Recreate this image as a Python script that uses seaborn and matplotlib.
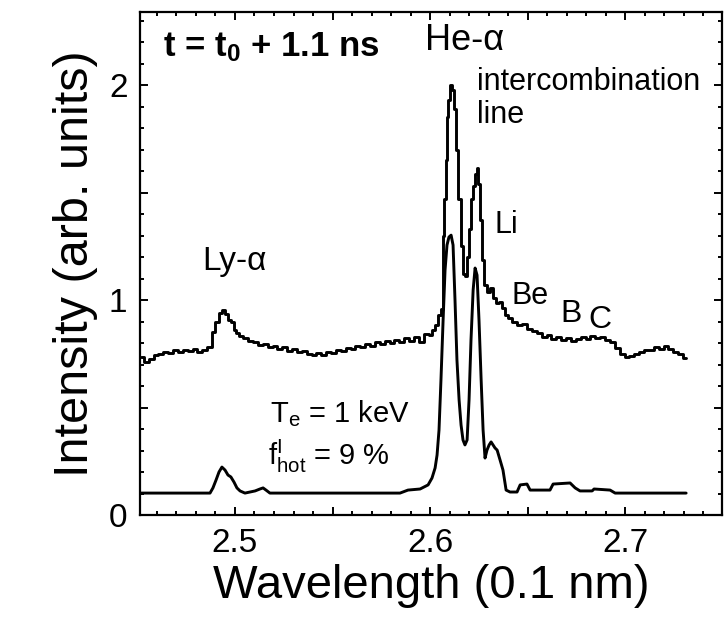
import numpy as np
import pandas as pd
import matplotlib
matplotlib.use("Agg")
import matplotlib.pyplot as plt
from matplotlib.ticker import FixedLocator, MultipleLocator
import seaborn as sns

# upper spectrum (measured, t = t0 + 1.1 ns)
upper_wl = [2.452, 2.4545, 2.457, 2.4595, 2.462, 2.4645, 2.467, 2.4695, 2.472, 2.4745,
            2.477, 2.4795, 2.482, 2.4845, 2.487, 2.489, 2.491, 2.493, 2.494, 2.4955,
            2.497, 2.4985, 2.500, 2.5015, 2.503, 2.5055, 2.508, 2.5105, 2.513, 2.5155,
            2.518, 2.5205, 2.523, 2.5255, 2.528, 2.5305, 2.533, 2.5355, 2.538, 2.5405,
            2.543, 2.5455, 2.548, 2.5505, 2.553, 2.5555, 2.558, 2.5605, 2.563, 2.5655,
            2.568, 2.5705, 2.573, 2.5755, 2.578, 2.5805, 2.583, 2.5855, 2.588, 2.5905,
            2.593, 2.5955, 2.598, 2.6005, 2.602, 2.6031, 2.6051, 2.6062, 2.6067, 2.6077,
            2.6087, 2.6092, 2.6097, 2.6108, 2.6118, 2.6128, 2.6138, 2.6149, 2.6164, 2.6174,
            2.6185, 2.6195, 2.6205, 2.6215, 2.6226, 2.6236, 2.6241, 2.6251, 2.6262, 2.6272,
            2.6282, 2.6297, 2.6313, 2.6328, 2.6344, 2.6359, 2.6374, 2.6390, 2.641, 2.6435,
            2.646, 2.6485, 2.651, 2.6535, 2.656, 2.6585, 2.661, 2.6635, 2.666, 2.6685,
            2.671, 2.6735, 2.676, 2.6785, 2.681, 2.6835, 2.686, 2.6885, 2.691, 2.6935,
            2.696, 2.6985, 2.701, 2.7035, 2.706, 2.7085, 2.711, 2.7135, 2.716, 2.7185,
            2.721, 2.7235, 2.726, 2.7285, 2.731]
upper_int = [0.735, 0.712, 0.726, 0.744, 0.749, 0.758, 0.753, 0.767, 0.758, 0.767,
             0.763, 0.772, 0.758, 0.767, 0.781, 0.851, 0.898, 0.940, 0.953, 0.935,
             0.907, 0.898, 0.860, 0.847, 0.833, 0.823, 0.809, 0.805, 0.791, 0.795,
             0.781, 0.786, 0.772, 0.781, 0.763, 0.772, 0.758, 0.763, 0.749, 0.744,
             0.753, 0.744, 0.758, 0.753, 0.767, 0.763, 0.777, 0.772, 0.786, 0.781,
             0.795, 0.786, 0.805, 0.795, 0.809, 0.800, 0.814, 0.805, 0.823, 0.809,
             0.828, 0.805, 0.842, 0.837, 0.860, 0.884, 0.930, 0.960, 1.300, 1.470,
             1.650, 1.850, 1.930, 2.000, 1.975, 1.890, 1.700, 1.470, 1.250, 1.120,
             1.110, 1.200, 1.330, 1.470, 1.530, 1.585, 1.614, 1.540, 1.372, 1.186,
             1.070, 1.037, 1.056, 1.009, 0.986, 0.991, 0.963, 0.930, 0.916, 0.898,
             0.884, 0.888, 0.865, 0.856, 0.847, 0.828, 0.837, 0.819, 0.828, 0.814,
             0.823, 0.809, 0.819, 0.828, 0.819, 0.833, 0.823, 0.828, 0.814, 0.805,
             0.777, 0.749, 0.735, 0.740, 0.749, 0.758, 0.767, 0.767, 0.781, 0.772,
             0.786, 0.772, 0.758, 0.749, 0.730]

# lower spectrum (model, Te = 1 keV)
lower_wl = [2.452, 2.4872, 2.4887, 2.4903, 2.4918, 2.4933, 2.4949, 2.4964, 2.4979, 2.4995,
            2.5010, 2.5026, 2.5051, 2.5077, 2.5103, 2.5128, 2.5144, 2.5159, 2.5179, 2.5846,
            2.5887, 2.5949, 2.5990, 2.6010, 2.6026, 2.6036, 2.6046, 2.6056, 2.6067, 2.6077,
            2.6087, 2.6097, 2.6108, 2.6118, 2.6128, 2.6138, 2.6149, 2.6159, 2.6169, 2.6179,
            2.6190, 2.6200, 2.6210, 2.6221, 2.6231, 2.6241, 2.6251, 2.6262, 2.6272, 2.6282,
            2.6292, 2.6303, 2.6313, 2.6323, 2.6333, 2.6344, 2.6359, 2.6374, 2.6390, 2.6410,
            2.6446, 2.6462, 2.6497, 2.6513, 2.6615, 2.6631, 2.6718, 2.6744, 2.6769, 2.6831,
            2.6841, 2.6923, 2.6949, 2.7313]
lower_int = [0.102, 0.102, 0.126, 0.163, 0.200, 0.223, 0.209, 0.186, 0.177, 0.153,
             0.126, 0.112, 0.102, 0.107, 0.112, 0.121, 0.126, 0.116, 0.102, 0.102,
             0.116, 0.121, 0.140, 0.172, 0.219, 0.279, 0.395, 0.628, 0.907, 1.140,
             1.256, 1.293, 1.302, 1.256, 1.000, 0.721, 0.535, 0.419, 0.349, 0.326,
             0.349, 0.535, 0.814, 1.047, 1.149, 1.116, 0.907, 0.628, 0.395, 0.265,
             0.302, 0.326, 0.340, 0.326, 0.312, 0.302, 0.256, 0.209, 0.116, 0.107,
             0.107, 0.140, 0.144, 0.116, 0.116, 0.144, 0.149, 0.126, 0.112, 0.112,
             0.121, 0.116, 0.102, 0.102]

x_ticks = [2.5, 2.55, 2.6, 2.65, 2.7]
x_tick_labels = ["2.5", "", "2.6", "", "2.7"]
y_ticks = [0, 0.5, 1, 1.5, 2]
y_tick_labels = ["0", "", "1", "", "2"]

sns.set_style("ticks")
plt.rcParams["font.family"] = ["Liberation Sans", "DejaVu Sans"]
plt.rcParams["mathtext.fontset"] = "custom"
plt.rcParams["mathtext.rm"] = "Liberation Sans"
plt.rcParams["mathtext.it"] = "Liberation Sans:italic"
plt.rcParams["mathtext.bf"] = "Liberation Sans:bold"
for key in ["text.color", "axes.labelcolor", "xtick.color", "ytick.color", "axes.edgecolor"]:
    plt.rcParams[key] = "black"

df_up = pd.DataFrame({"wl": upper_wl, "I": upper_int})
df_lo = pd.DataFrame({"wl": lower_wl, "I": lower_int})

fig = plt.figure(figsize=(7.25, 6.17), dpi=100)
ax = fig.add_axes([0.1931, 0.1653, 0.8028, 0.8152])

sns.lineplot(data=df_up, x="wl", y="I", color="black", linewidth=2.1,
             estimator=None, sort=False, drawstyle="steps-mid", ax=ax)
sns.lineplot(data=df_lo, x="wl", y="I", color="black", linewidth=2.1,
             estimator=None, sort=False, ax=ax)

ax.set_xlim(2.4513, 2.7497)
ax.set_ylim(0, 2.34)

ax.xaxis.set_major_locator(FixedLocator(x_ticks))
ax.set_xticklabels(x_tick_labels)
ax.yaxis.set_major_locator(FixedLocator(y_ticks))
ax.set_yticklabels(y_tick_labels)
ax.xaxis.set_minor_locator(MultipleLocator(0.01))
ax.yaxis.set_minor_locator(MultipleLocator(0.1))
ax.tick_params(which="both", direction="in", top=True, right=True, width=1.4,
               labelsize=24, pad=9)
ax.tick_params(which="major", length=6)
ax.tick_params(which="minor", length=3)
for s in ax.spines.values():
    s.set_linewidth(1.6)

ax.set_xlabel("Wavelength (0.1 nm)", fontsize=34, labelpad=4)
ax.set_ylabel("Intensity (arb. units)", fontsize=35, labelpad=8)

ax.text(0.04, 0.93, r"t = t$_\mathbf{0}$ + 1.1 ns", transform=ax.transAxes,
        fontsize=25, fontweight="bold", va="center", ha="left")
ax.text(2.5974, 2.163, "He-α", fontsize=26, ha="left", va="baseline")
ax.text(2.6241, 1.977, "intercombination", fontsize=22, ha="left", va="baseline")
ax.text(2.6241, 1.823, "line", fontsize=22, ha="left", va="baseline")
ax.text(2.6333, 1.312, "Li", fontsize=22, ha="left", va="baseline")
ax.text(2.4831, 1.140, "Ly-α", fontsize=24, ha="left", va="baseline")
ax.text(2.642, 0.98, "Be", fontsize=22, ha="left", va="baseline")
ax.text(2.667, 0.90, "B", fontsize=23, ha="left", va="baseline")
ax.text(2.681, 0.87, "C", fontsize=23, ha="left", va="baseline")
ax.text(2.5179, 0.433, r"T$_\mathrm{e}$ = 1 keV", fontsize=21, ha="left", va="baseline")
ax.text(2.5169, 0.233, r"f$^\mathrm{I}_\mathrm{hot}$ = 9 %", fontsize=21, ha="left",
        va="baseline")

fig.savefig("out.png", dpi=100)
